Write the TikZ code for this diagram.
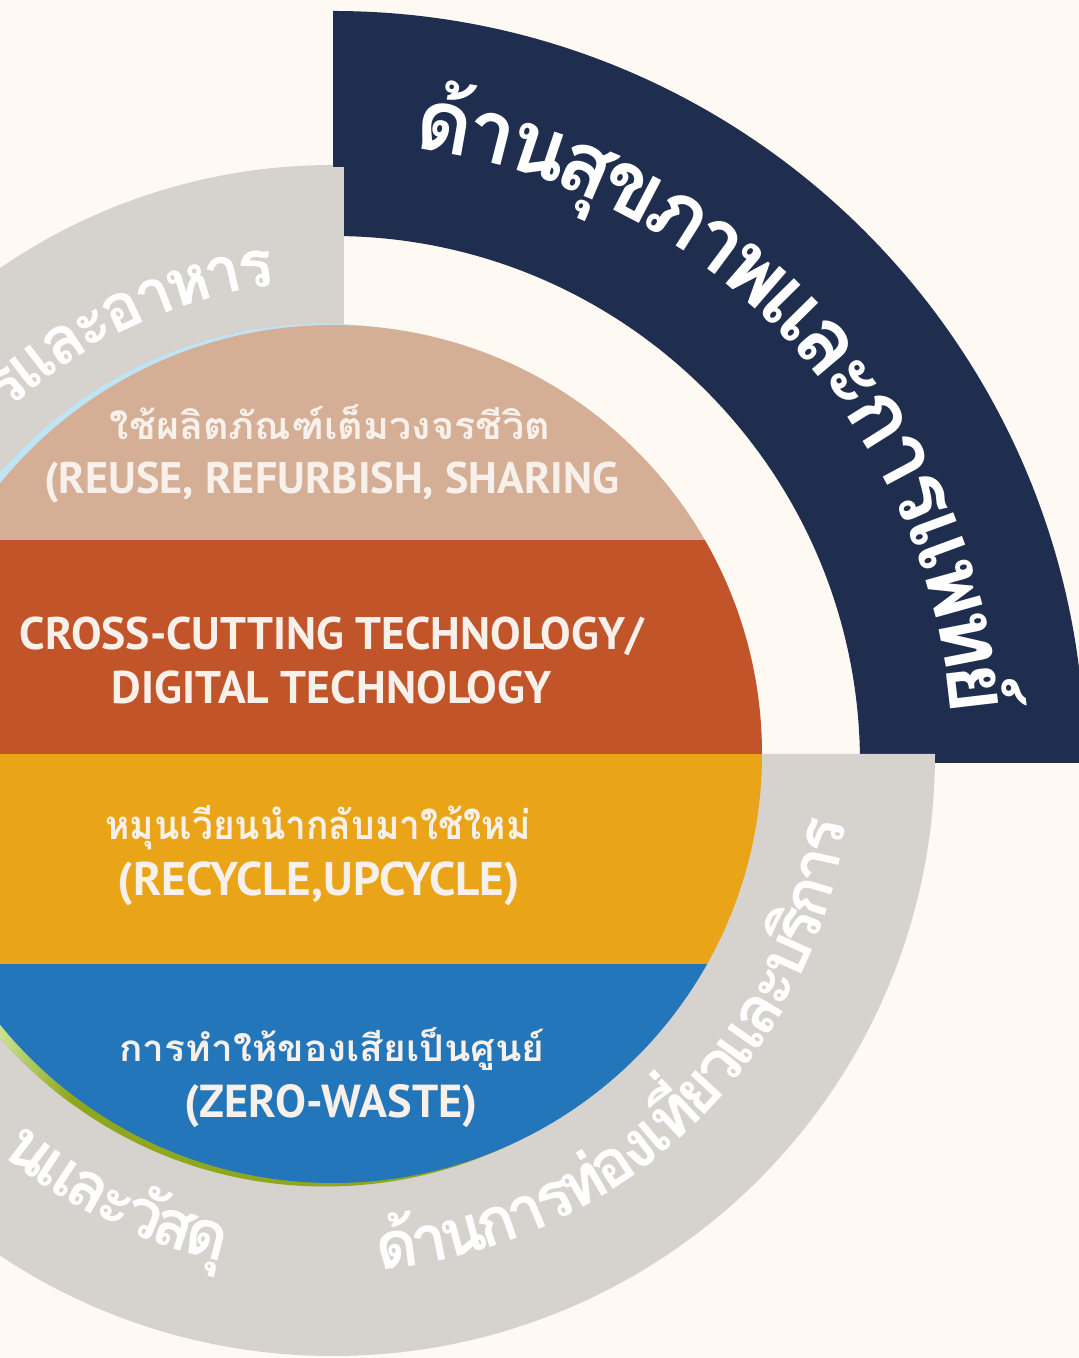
\documentclass[tikz,border=0pt]{standalone}
\usepackage{fontspec}
\usepackage{graphicx}
\usetikzlibrary{calc}
\newfontfamily\thai[Script=Thai]{Loma}
\newfontfamily\latinband{PT Sans}
\definecolor{cream}{HTML}{FEF9F2}
\definecolor{navy}{HTML}{1F2E4E}
\definecolor{ringgray}{HTML}{D6D2CD}
\definecolor{tanband}{HTML}{D5AE96}
\definecolor{rustband}{HTML}{C2542A}
\definecolor{goldband}{HTML}{E9A418}
\definecolor{blueband}{HTML}{2376B9}
\definecolor{sliverblue}{HTML}{BFE4F6}
\definecolor{olivegreen}{HTML}{8FA71E}
\definecolor{lightgreen}{HTML}{CBE290}
\definecolor{bandtext}{HTML}{F8F0EA}
\tikzset{
  ringtext/.style={text=white, inner sep=0pt, anchor=base},
  bandlabel/.style={text=bandtext, inner sep=0pt, anchor=base},
}
\newlength\arctot
\def\arctrack{0.87}
\newcommand\arcfont[1]{\fontsize{#1}{#1}\selectfont\thai\bfseries}
\newcommand\bandfont{\fontsize{40}{40}\selectfont\thai\bfseries}
\newcommand\bandlatin{\fontsize{40}{40}\selectfont\latinband\bfseries}
% measure clusters of list #2 at 100pt, store under name #1
\newcommand\arcprep[2]{%
  \global\arctot=0pt
  \foreach \cl [count=\ci] in {#2}{%
    \setbox0=\hbox{\arcfont{100}\cl}%
    \global\advance\arctot by \wd0
    \expandafter\xdef\csname arcw@#1@\ci\endcsname{\the\wd0}%
    \global\expandafter\let\csname arcc@#1@\ci\endcsname\cl
    \expandafter\xdef\csname arcn@#1\endcsname{\ci}%
  }%
  \expandafter\xdef\csname arctw@#1\endcsname{\the\arctot}%
}
% name, center, radius, start angle, size, dir (+1 ccw tops in / -1 cw tops out)
\newcommand\arcdraw[6]{%
  \xdef\arccur{#4}%
  \pgfmathsetmacro\arcscl{#5/100*\arctrack}%
  \edef\arcn{\csname arcn@#1\endcsname}%
  \foreach \ci in {1,...,\arcn}{%
    \pgfmathsetmacro\arcda{\csname arcw@#1@\ci\endcsname*\arcscl/(#3)*180/pi}%
    \pgfmathsetmacro\arcmid{\arccur+(#6)*\arcda/2}%
    \pgfmathsetmacro\arcrot{\arcmid+(#6)*90}%
    \node[ringtext, rotate=\arcrot] (#1-\ci) at ([shift={(\arcmid:#3)}]#2) {\arcfont{#5}\csname arcc@#1@\ci\endcsname};
    \pgfmathsetmacro\arcnext{\arccur+(#6)*\arcda}%
    \xdef\arccur{\arcnext}%
  }%
}
% name, center, radius, a1, a2, dir : size chosen to fit a1..a2
\newcommand\arcfit[6]{%
  \pgfmathsetmacro\arcfs{(#3)/\csname arctw@#1\endcsname*abs(#5-#4)*pi/180*100/\arctrack}%
  \xdef\lastfs{\arcfs}%
  \arcdraw{#1}{#2}{#3}{#4}{\lastfs}{#6}%
}
% name, center, radius, end angle, size, dir
\newcommand\arcend[6]{%
  \pgfmathsetmacro\arcst{#4-(#6)*\csname arctw@#1\endcsname/(#3)*(#5)/100*\arctrack*180/pi}%
  \arcdraw{#1}{#2}{#3}{\arcst}{#5}{#6}%
}
\begin{document}%
\arcprep{health}{ด้,า,น,สุ,ข,ภ,า,พ,แ,ล,ะ,ก,า,ร,แ,พ,ท,ย์}%
\arcprep{tour}{ด้,า,น,ก,า,ร,ท่,อ,ง,เ,ที่,ย,ว,แ,ล,ะ,บ,ริ,ก,า,ร}%
\arcprep{mat}{น,แ,ล,ะ,วั,ส,ดุ}%
\arcprep{food}{ร,แ,ล,ะ,อ,า,ห,า,ร}%
\begin{tikzpicture}[x=1pt,y=1pt]
\useasboundingbox (0,0) rectangle (1079,1358);
\clip (0,0) rectangle (1079,1358);
\fill[cream] (0,0) rectangle (1079,1358);
\coordinate (C) at (333,604);
\coordinate (N) at (333,595);
% navy quarter ring
\fill[navy] ([shift={(0:752)}]N) arc[start angle=0,end angle=90,radius=752]
  -- ([shift={(90:527)}]N) arc[start angle=90,end angle=0,radius=527] -- cycle;
% gray rings
\fill[ringgray] (C) -- ([shift={(90:589)}]C) arc[start angle=90,end angle=180,radius=589] -- cycle;
\fill[ringgray] (333,1191) rectangle (344,900);
\fill[ringgray] (C) -- ([shift={(180:602)}]C) arc[start angle=180,end angle=360,radius=602] -- cycle;
% slivers
\begin{scope}
  \clip (0,604) rectangle (1079,1358);
  \fill[sliverblue] ([shift={(-8,1)}]C) circle[radius=429];
\end{scope}
\begin{scope}
  \clip (0,0) rectangle (1079,604);
  \clip ([shift={(-8,-3.5)}]C) circle[radius=429];
  \fill[olivegreen] (0,0) rectangle (1079,604);
  \shade[left color=lightgreen, right color=olivegreen] (0,0) rectangle (70,604);
\end{scope}
% central circle bands
\begin{scope}
  \clip (C) circle[radius=429];
  \fill[tanband] (0,818) rectangle (800,1040);
  \fill[rustband] (0,604) rectangle (800,818);
  \fill[goldband] (0,394) rectangle (800,604);
  \fill[blueband] (0,170) rectangle (800,394);
\end{scope}
% band labels
\node[bandlabel] (t1) at (330,918) {\resizebox{440pt}{35pt}{\bandfont ใช้ผลิตภัณฑ์เต็มวงจรชีวิต}};
\node[bandlabel] (t2) at (332,864) {\resizebox{575pt}{!}{\bandlatin (REUSE, REFURBISH, SHARING}};
\node[bandlabel] (t3) at (332,708) {\resizebox{625pt}{!}{\bandlatin CROSS-CUTTING TECHNOLOGY/}};
\node[bandlabel] (t4) at (332,654) {\resizebox{440pt}{!}{\bandlatin DIGITAL TECHNOLOGY}};
\node[bandlabel] (t5) at (318,518) {\resizebox{425pt}{34pt}{\bandfont หมุนเวียนนำกลับมาใช้ใหม่}};
\node[bandlabel] (t6) at (319,462) {\resizebox{402pt}{!}{\bandlatin (RECYCLE,UPCYCLE)}};
\node[bandlabel] (t7) at (332,296) {\resizebox{425pt}{34pt}{\bandfont การทำให้ของเสียเป็นศูนย์}};
\node[bandlabel] (t8) at (331,240) {\resizebox{293pt}{!}{\bandlatin (ZERO-WASTE)}};
% ring texts
\arcfit{health}{N}{620}{82.3}{4.6}{-1}
\arcfit{tour}{C}{518}{275.3}{352.2}{1}
\arcend{mat}{C}{520}{257.5}{\lastfs}{1}
\arcend{food}{C}{472}{97.2}{\lastfs}{-1}
\end{tikzpicture}%
\end{document}
